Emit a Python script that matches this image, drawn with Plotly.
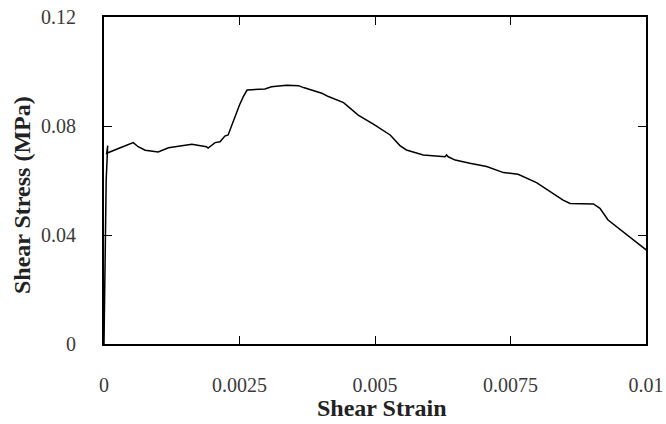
import plotly.graph_objects as go

# Shear strain (x) and shear stress in MPa (y)
strain = [0.0, 0.00002, 0.00004, 0.000068, 0.00005, 0.00030, 0.00054, 0.00063, 0.00076,
          0.00100, 0.00119, 0.00162, 0.00189, 0.00192, 0.00205, 0.00214, 0.00223,
          0.00229, 0.00239, 0.00250, 0.00257, 0.00264, 0.00297, 0.00309, 0.00337,
          0.00359, 0.00368, 0.00402, 0.00414, 0.00435, 0.00442, 0.00469, 0.00497,
          0.00528, 0.00546, 0.00558, 0.00589, 0.00629, 0.00632, 0.00635, 0.00648,
          0.00675, 0.00706, 0.00737, 0.00764, 0.00798, 0.00823, 0.00847, 0.00860,
          0.00903, 0.00915, 0.00930, 0.01007]
stress = [0.0, 0.030, 0.060, 0.0728, 0.0700, 0.0720, 0.0739, 0.0724, 0.0711,
          0.0705, 0.0720, 0.0733, 0.0724, 0.0719, 0.0739, 0.0742, 0.0763,
          0.0767, 0.0822, 0.0877, 0.0908, 0.0932, 0.0936, 0.0944, 0.0950,
          0.0948, 0.0941, 0.0920, 0.0908, 0.0892, 0.0886, 0.0840, 0.0807,
          0.0767, 0.0728, 0.0712, 0.0694, 0.0687, 0.0694, 0.0687, 0.0675,
          0.0663, 0.0651, 0.0629, 0.0623, 0.0592, 0.0559, 0.0528, 0.0516,
          0.0514, 0.0498, 0.0455, 0.0335]

x_ticks = [0, 0.0025, 0.005, 0.0075, 0.01]
x_tick_labels = ["0", "0.0025", "0.005", "0.0075", "0.01"]
y_ticks = [0, 0.04, 0.08, 0.12]
y_tick_labels = ["0", "0.04", "0.08", "0.12"]
x_title = "Shear Strain"
y_title = "Shear Stress (MPa)"

FONT = "Liberation Serif, Times New Roman, serif"

fig = go.Figure()
fig.add_trace(go.Scatter(x=strain, y=stress, mode="lines",
                         line=dict(color="black", width=1.5), showlegend=False))

axis_common = dict(
    showgrid=False, zeroline=False, showline=True, linecolor="black", linewidth=2,
    mirror="ticks", ticks="inside", ticklen=8, tickwidth=1, tickcolor="black",
    tickfont=dict(family=FONT, size=20, color="#3a3a3a"), automargin=False,
)

fig.update_xaxes(range=[0, 0.01], tickvals=x_ticks, ticktext=x_tick_labels,
                 ticklabelstandoff=22, **axis_common)
fig.update_yaxes(range=[0, 0.12], tickvals=y_ticks, ticktext=y_tick_labels,
                 ticklabelstandoff=22, **axis_common)

title_font = dict(family=FONT, size=24, color="#222222")
fig.add_annotation(text=f"<b>{x_title}</b>", xref="paper", yref="paper",
                   x=0.513, y=-0.196, xanchor="center", yanchor="middle",
                   showarrow=False, font=title_font)
fig.add_annotation(text=f"<b>{y_title}</b>", xref="paper", yref="paper",
                   x=-0.151, y=0.456, xanchor="center", yanchor="middle",
                   textangle=-90, showarrow=False, font=title_font)

fig.update_layout(width=666, height=424, margin=dict(l=104, r=20, t=17, b=80),
                  plot_bgcolor="white", paper_bgcolor="white")

fig.write_html("out.html")
